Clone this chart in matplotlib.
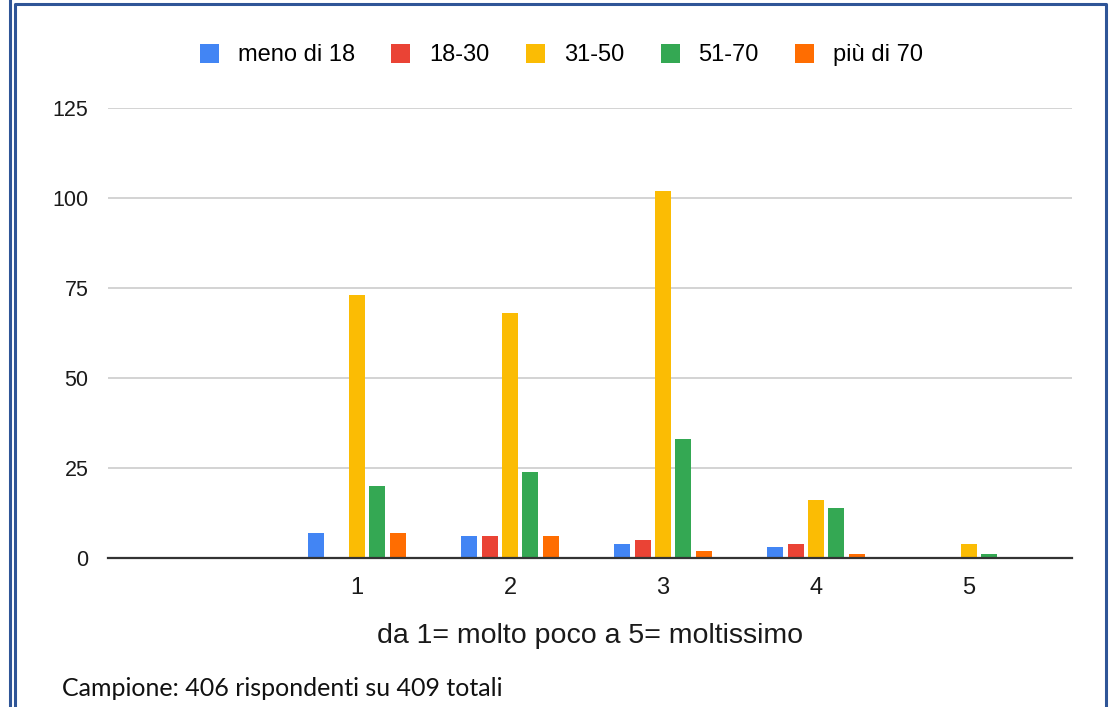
import numpy as np
import matplotlib
matplotlib.use("Agg")
import matplotlib.pyplot as plt
from matplotlib.patches import Patch
from matplotlib.lines import Line2D

# dati
categorie = ["1", "2", "3", "4", "5"]
serie = ["meno di 18", "18-30", "31-50", "51-70", "più di 70"]
meno_18 = [7, 6, 4, 3, 0]
da_18_30 = [0, 6, 5, 4, 0]
da_31_50 = [73, 68, 102, 16, 4]
da_51_70 = [20, 24, 33, 14, 1]
piu_70 = [7, 6, 2, 1, 0]
valori = [meno_18, da_18_30, da_31_50, da_51_70, piu_70]
colori = ["#4285F4", "#EA4335", "#FBBC04", "#34A853", "#FF6D01"]
yticks = [0, 25, 50, 75, 100, 125]

plt.rcParams['font.family'] = ['Liberation Sans', 'DejaVu Sans']

W, H = 1112, 707
fig = plt.figure(figsize=(W / 100, H / 100), dpi=100)
ax = fig.add_axes([108 / W, 1 - 558 / H, (1072 - 108) / W, (558 - 108) / H])

x = np.arange(1, len(categorie) + 1)
passo = 0.1333
larg = 0.105
for i, (v, c) in enumerate(zip(valori, colori)):
    ax.bar(x + (i - 2) * passo, v, width=larg, color=c, zorder=3)

ax.set_xlim(1 - 249 / 153, 5 + 103 / 153)
ax.set_ylim(0, 125)
ax.set_yticks(yticks)
ax.set_xticks(x)
ax.set_xticklabels(categorie)
ax.tick_params(axis='both', length=0, labelsize=15.5, colors='#1a1a1a')
ax.tick_params(axis='x', labelsize=17, pad=14)
ax.tick_params(axis='y', pad=14)
ax.yaxis.grid(True, color='#cccccc', linewidth=1.2, zorder=0)
for s in ['top', 'right', 'left']:
    ax.spines[s].set_visible(False)
ax.spines['bottom'].set_color('#333333')
ax.spines['bottom'].set_linewidth(1.6)
ax.spines['bottom'].set_zorder(4)
ax.set_xlabel("da 1= molto poco a 5= moltissimo", fontsize=20.5, color='#1a1a1a', labelpad=17)

handles = [Patch(facecolor=c, label=s) for c, s in zip(colori, serie)]
fig.legend(handles=handles, loc='center', bbox_to_anchor=(0.505, 1 - 55 / H), ncol=5,
           frameon=False, fontsize=17, handlelength=0.8, handleheight=0.85,
           handletextpad=0.8, columnspacing=1.55)

fig.text(62 / W, 1 - 688 / H, "Campione: 406 rispondenti su 409 totali",
         fontsize=18, family=['Lato', 'DejaVu Sans'], va='center', ha='left', color='#111111')

# cornici blu
blu = '#2F5597'
fig.add_artist(Line2D([10 / W, 10 / W], [0, 1], color=blu, lw=2.2, transform=fig.transFigure))
fig.add_artist(Line2D([15 / W, 15 / W, 1106 / W, 1106 / W], [0, 1 - 4 / H, 1 - 4 / H, 0],
                      color=blu, lw=2.2, transform=fig.transFigure))

fig.savefig("out.png", dpi=100)
